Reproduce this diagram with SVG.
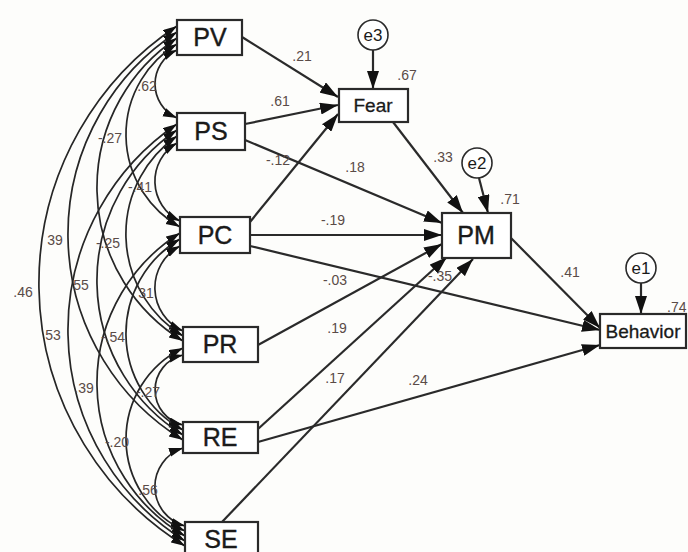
<svg xmlns="http://www.w3.org/2000/svg" width="688" height="552" viewBox="0 0 688 552">
<style>
.box{fill:#fff;stroke:#2a2a2a;stroke-width:2.2}
.err{fill:#fff;stroke:#2a2a2a;stroke-width:1.6}
.nt{font-family:"Liberation Sans",Arial,sans-serif;font-size:25px;fill:#1a1a1a;stroke:#1a1a1a;stroke-width:0.4;text-anchor:middle}
.nt2{font-family:"Liberation Sans",Arial,sans-serif;font-size:19px;fill:#1a1a1a;stroke:#1a1a1a;stroke-width:0.3;text-anchor:middle}
.et{font-family:"Liberation Sans",Arial,sans-serif;font-size:17px;fill:#1a1a1a;text-anchor:middle}
.lb{font-family:"Liberation Sans",Arial,sans-serif;font-size:14px;fill:#5a4b47;text-anchor:middle}
.arc{fill:none;stroke:#262626;stroke-width:1.7;marker-start:url(#ah);marker-end:url(#ah)}
.pth{fill:none;stroke:#2a2a2a;stroke-width:2.2;marker-end:url(#aw)}
</style>
<defs>
<marker id="ah" markerUnits="userSpaceOnUse" markerWidth="15" markerHeight="10" refX="14" refY="4.5" orient="auto-start-reverse"><path d="M0,0 L14,4.5 L0,9 z" fill="#111"/></marker>
<marker id="aw" markerUnits="userSpaceOnUse" markerWidth="19" markerHeight="12" refX="18" refY="6" orient="auto"><path d="M0,0 L18,6 L0,12 z" fill="#111"/></marker>
</defs>
<rect width="688" height="552" fill="#fdfdfb"/>
<g id="connectors">
<path class="arc" d="M177,50 A37.3,37.3 0 0 0 177,118"/>
<path class="arc" d="M177,143 A44.1,44.1 0 0 0 180,221"/>
<path class="arc" d="M180,246 A47.3,47.3 0 0 0 183,331"/>
<path class="arc" d="M183,355 A35.9,35.9 0 0 0 183,425"/>
<path class="arc" d="M183,448 A40.7,40.7 0 0 0 185,526"/>
<path class="arc" d="M177,44 A106,106 0 0 0 180,227"/>
<path class="arc" d="M177,136 A119.6,119.6 0 0 0 183,336"/>
<path class="arc" d="M180,239 A109.9,109.9 0 0 0 183,430"/>
<path class="arc" d="M183,348 A101.2,101.2 0 0 0 185,531"/>
<path class="arc" d="M177,38 A179.8,179.8 0 0 0 183,341"/>
<path class="arc" d="M177,130 A181.6,181.6 0 0 0 183,435"/>
<path class="arc" d="M180,233 A177,177 0 0 0 185,536"/>
<path class="arc" d="M177,32 A241.8,241.8 0 0 0 183,440"/>
<path class="arc" d="M177,124 A248.9,248.9 0 0 0 185,541"/>
<path class="arc" d="M177,26 A309,309 0 0 0 185,546"/>
<path class="pth" d="M242,37 L338,97"/>
<path class="pth" d="M245,124 L338,105"/>
<path class="pth" d="M245,140 L442,223"/>
<path class="pth" d="M250,222 L338,114"/>
<path class="pth" d="M250,235 L442,235"/>
<path class="pth" d="M250,246 L600,330"/>
<path class="pth" d="M258,345 L442,244"/>
<path class="pth" d="M258,429 L447,257"/>
<path class="pth" d="M258,442 L600,345"/>
<path class="pth" d="M222,522 L473,259"/>
<path class="pth" d="M393,122 L463,213"/>
<path class="pth" d="M511,238 L600,328"/>
<path class="pth" d="M373,50 L373,89"/>
<path class="pth" d="M479,178 L488,213"/>
<path class="pth" d="M641,283 L641,314"/>
</g>
<g id="labels">
<text class="lb" x="147" y="91">.62</text>
<text class="lb" x="110" y="143">-.27</text>
<text class="lb" x="140" y="192">-.41</text>
<text class="lb" x="55" y="245">39</text>
<text class="lb" x="108" y="248">-.25</text>
<text class="lb" x="23" y="297">.46</text>
<text class="lb" x="81" y="290">55</text>
<text class="lb" x="146" y="298">31</text>
<text class="lb" x="53" y="340">53</text>
<text class="lb" x="113" y="342">-.54</text>
<text class="lb" x="84" y="393">.39</text>
<text class="lb" x="148" y="397">-.27</text>
<text class="lb" x="117" y="447">-.20</text>
<text class="lb" x="148" y="495">.56</text>
<text class="lb" x="302" y="61">.21</text>
<text class="lb" x="407" y="80">.67</text>
<text class="lb" x="280" y="106">.61</text>
<text class="lb" x="278" y="165">-.12</text>
<text class="lb" x="355" y="172">.18</text>
<text class="lb" x="443" y="162">.33</text>
<text class="lb" x="510" y="204">.71</text>
<text class="lb" x="333" y="225">-.19</text>
<text class="lb" x="335" y="285">-.03</text>
<text class="lb" x="440" y="281">-.35</text>
<text class="lb" x="337" y="333">.19</text>
<text class="lb" x="335" y="383">.17</text>
<text class="lb" x="418" y="385">.24</text>
<text class="lb" x="570" y="277">.41</text>
<text class="lb" x="667" y="312" style="text-anchor:start">.74</text>
</g>
<g id="PV"><rect class="box" x="177" y="20" width="65" height="35"/><text class="nt" x="210" y="46">PV</text></g>
<g id="PS"><rect class="box" x="177" y="113" width="68" height="37"/><text class="nt" x="211" y="140">PS</text></g>
<g id="PC"><rect class="box" x="180" y="217" width="70" height="36"/><text class="nt" x="215" y="244">PC</text></g>
<g id="PR"><rect class="box" x="183" y="327" width="75" height="35"/><text class="nt" x="220" y="353">PR</text></g>
<g id="RE"><rect class="box" x="183" y="422" width="75" height="31"/><text class="nt" x="220" y="446">RE</text></g>
<g id="SE"><rect class="box" x="185" y="522" width="73" height="36"/><text class="nt" x="221" y="548">SE</text></g>
<g id="Fear"><rect class="box" x="339" y="89" width="69" height="33"/><text class="nt2" x="373" y="112">Fear</text></g>
<g id="PM"><rect class="box" x="442" y="213" width="69" height="45"/><text class="nt" x="476" y="244">PM</text></g>
<g id="Behavior"><rect class="box" x="600" y="314" width="86" height="34"/><text class="nt2" x="643" y="338">Behavior</text></g>
<g id="e3"><circle class="err" cx="373" cy="35" r="15"/><text class="et" x="373" y="41">e3</text></g>
<g id="e2"><circle class="err" cx="477" cy="163" r="15"/><text class="et" x="477" y="169">e2</text></g>
<g id="e1"><circle class="err" cx="641" cy="268" r="15"/><text class="et" x="641" y="274">e1</text></g>
</svg>
